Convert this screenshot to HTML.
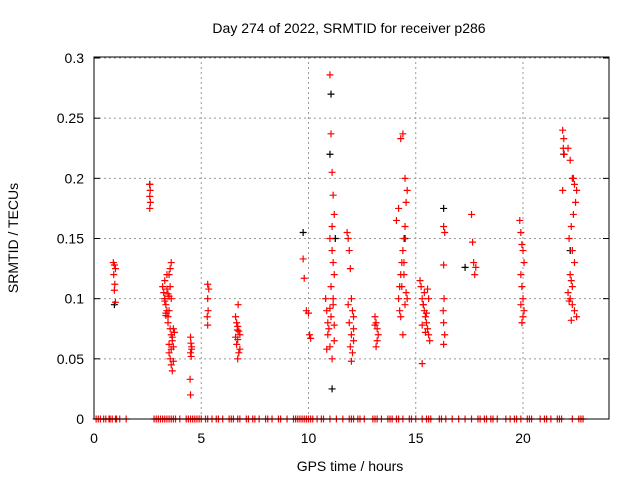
<!DOCTYPE html>
<html><head><meta charset="utf-8"><style>
body{margin:0;background:#fff}
svg text{font-family:"Liberation Sans",sans-serif;font-size:14px;fill:#000}
</style></head><body>
<svg id="c" width="640" height="480">
<text x="349" y="33" text-anchor="middle">Day 274 of 2022, SRMTID for receiver p286</text>
<text x="350" y="471" text-anchor="middle">GPS time / hours</text>
<text transform="translate(18,238) rotate(-90)" text-anchor="middle">SRMTID / TECUs</text>
<g id="grid"></g><g id="ticks"></g><g id="black"></g><g id="red"></g>
<rect x="94" y="57" width="515" height="362" fill="none" stroke="#000" stroke-width="1"/>
</svg>
<script>
const xTicks=[0,5,10,15,20];
const yTicks=[0,0.05,0.1,0.15,0.2,0.25,0.3];
const yTickLabels=["0","0.05","0.1","0.15","0.2","0.25","0.3"];
const redHours=[0.9,0.95,1.0,0.92,0.97,0.95,1.0,
2.6,2.62,2.6,2.63,2.6,
3.2,3.25,3.3,3.35,3.4,3.45,3.5,3.55,3.6,3.3,3.4,3.5,3.35,3.45,3.55,3.6,3.65,3.7,3.5,3.55,3.6,3.65,3.7,3.75,3.5,3.6,3.7,3.4,3.3,3.5,3.6,3.3,3.35,3.45,3.55,3.65,
4.5,4.52,4.55,4.5,4.53,4.48,4.5,4.55,
5.3,5.35,5.3,5.32,5.28,5.3,
6.6,6.65,6.7,6.75,6.8,6.7,6.65,6.8,6.75,6.7,6.72,6.6,6.68,
9.75,9.8,9.9,10.0,10.05,10.1,
10.8,10.85,10.9,11.0,11.05,11.1,11.15,11.2,11.1,11.0,11.1,11.15,11.2,11.05,11.15,10.9,11.0,11.1,11.2,10.95,11.05,11.15,10.85,11.0,11.2,
11.8,11.85,11.9,11.95,12.0,12.05,12.1,11.9,12.0,12.1,11.95,12.05,12.0,11.85,12.1,
13.1,13.15,13.2,13.25,13.2,13.15,13.1,
14.2,14.25,14.3,14.35,14.4,14.45,14.5,14.55,14.6,14.5,14.4,14.3,14.2,14.1,14.35,14.45,14.5,14.3,14.4,14.6,14.45,14.55,14.25,
15.2,15.25,15.3,15.35,15.4,15.45,15.5,15.55,15.6,15.65,15.3,15.4,15.5,15.3,15.6,15.35,15.45,15.55,
16.3,16.35,16.3,16.32,16.28,16.3,16.35,16.3,
17.6,17.65,17.7,17.8,17.75,
19.85,19.9,19.95,20.0,20.05,19.9,19.95,20.0,19.9,20.05,20.0,19.95,
21.85,21.9,21.88,21.92,21.85,
22.1,22.2,22.3,22.4,22.5,22.45,22.35,22.25,22.15,22.3,22.4,22.2,22.3,22.1,22.2,22.3,22.4,22.5,22.25,22.35,22.15,22.25];
const redValues=[0.13,0.128,0.125,0.12,0.112,0.107,0.097,
0.195,0.19,0.185,0.18,0.175,
0.11,0.105,0.1,0.095,0.09,0.085,0.12,0.125,0.13,0.115,0.108,0.102,0.088,0.08,0.075,0.07,0.065,0.06,0.055,0.05,0.045,0.04,0.075,0.072,0.062,0.058,0.048,0.12,0.1,0.09,0.1,0.098,0.086,0.104,0.11,0.068,
0.068,0.063,0.058,0.055,0.052,0.033,0.02,0.06,
0.112,0.108,0.1,0.09,0.085,0.078,
0.085,0.08,0.077,0.073,0.07,0.066,0.062,0.058,0.055,0.05,0.095,0.068,0.074,
0.133,0.117,0.09,0.088,0.07,0.067,
0.1,0.09,0.08,0.286,0.237,0.205,0.186,0.17,0.16,0.15,0.14,0.13,0.12,0.11,0.095,0.07,0.06,0.05,0.065,0.075,0.085,0.1,0.058,0.092,0.078,
0.155,0.15,0.14,0.125,0.1,0.09,0.085,0.08,0.07,0.065,0.06,0.055,0.048,0.095,0.075,
0.085,0.08,0.075,0.07,0.065,0.06,0.078,
0.1,0.11,0.12,0.13,0.14,0.15,0.16,0.18,0.19,0.2,0.237,0.233,0.175,0.165,0.11,0.12,0.095,0.085,0.07,0.1,0.13,0.105,0.09,
0.115,0.11,0.1,0.095,0.09,0.085,0.08,0.075,0.07,0.065,0.046,0.105,0.088,0.078,0.1,0.095,0.072,0.108,
0.16,0.155,0.128,0.1,0.09,0.08,0.07,0.062,
0.17,0.147,0.13,0.126,0.12,
0.165,0.155,0.145,0.14,0.13,0.12,0.11,0.1,0.095,0.09,0.085,0.08,
0.24,0.233,0.225,0.22,0.19,
0.225,0.215,0.2,0.195,0.19,0.18,0.17,0.16,0.15,0.14,0.13,0.12,0.11,0.105,0.1,0.095,0.09,0.085,0.082,0.2,0.098,0.115];
const blackHours=[0.95,2.6,9.75,11.05,11.0,11.1,11.25,14.5,16.3,17.3,21.9,22.2];
const blackValues=[0.095,0.195,0.155,0.27,0.22,0.025,0.15,0.15,0.175,0.126,0.22,0.14];
const zeroHours=[0.1,0.2,0.3,0.45,0.55,0.7,0.75,0.85,1.0,1.05,1.2,1.5,2.8,2.9,3.0,3.1,3.2,3.3,3.4,3.5,3.6,3.7,3.8,4.0,4.3,4.4,4.5,4.6,4.7,4.8,4.9,5.0,5.2,5.3,5.5,5.7,5.8,6.0,6.3,6.4,6.5,6.7,6.8,7.1,7.2,7.4,7.5,7.7,8.0,8.1,8.3,8.6,8.7,9.0,9.3,9.4,9.5,9.6,9.7,9.8,9.9,10.0,10.1,10.2,10.4,10.6,10.7,11.0,11.3,11.6,11.9,12.0,12.1,12.3,12.4,12.6,13.0,13.1,13.2,13.4,13.7,13.8,13.9,14.1,14.2,14.4,14.7,14.8,15.0,15.3,15.5,15.6,15.7,16.1,16.2,16.4,16.7,17.0,17.3,17.6,17.9,18.0,18.2,18.3,18.5,18.6,18.8,19.2,19.4,19.6,19.7,19.9,20.2,20.3,20.4,20.8,21.0,21.1,21.3,21.6,21.7,21.8,22.3,22.6,22.7,22.8];
const X=h=>94+h*21.45, Y=v=>419-v*1203.3;
const NS="http://www.w3.org/2000/svg";
function mk(p,tag,at){const e=document.createElementNS(NS,tag);for(const k in at)e.setAttribute(k,at[k]);document.getElementById(p).appendChild(e);return e;}
xTicks.forEach(t=>{
 if(t>0){const g=mk('grid','line',{x1:X(t),x2:X(t),y1:57,y2:419,stroke:'#999','stroke-dasharray':'2,3'});
 
 }
 const tx=mk('ticks','text',{x:X(t),y:443,'text-anchor':'middle'});tx.textContent=t;
 
 
});
yTicks.forEach((t,i)=>{
 if(t>0){const g=mk('grid','line',{x1:94,x2:609,y1:Y(t),y2:Y(t),stroke:'#999','stroke-dasharray':'2,3'});
 
 }
 mk('ticks','line',{x1:94,x2:100,y1:Y(t),y2:Y(t),stroke:'#000'});
 mk('ticks','line',{x1:603,x2:609,y1:Y(t),y2:Y(t),stroke:'#000'});
 const tx=mk('ticks','text',{x:84,y:Y(t)+5,'text-anchor':'end'});tx.textContent=yTickLabels[i];
 
 
});
function plus(g,h,v,c,n){const x=X(h),y=Y(v);const p=mk(g,'path',{d:`M${x-3.5} ${y}H${x+3.5}M${x} ${y-3.5}V${y+3.5}`,stroke:c,'stroke-width':1.2,fill:'none'});
 
 }
blackHours.forEach((h,i)=>plus('black',h,blackValues[i],'#000','black-point'));
redHours.forEach((h,i)=>plus('red',h,redValues[i],'#f00','red-point'));
zeroHours.forEach(h=>plus('red',h,0,'#f00','zero-point'));
</script>
</body></html>
